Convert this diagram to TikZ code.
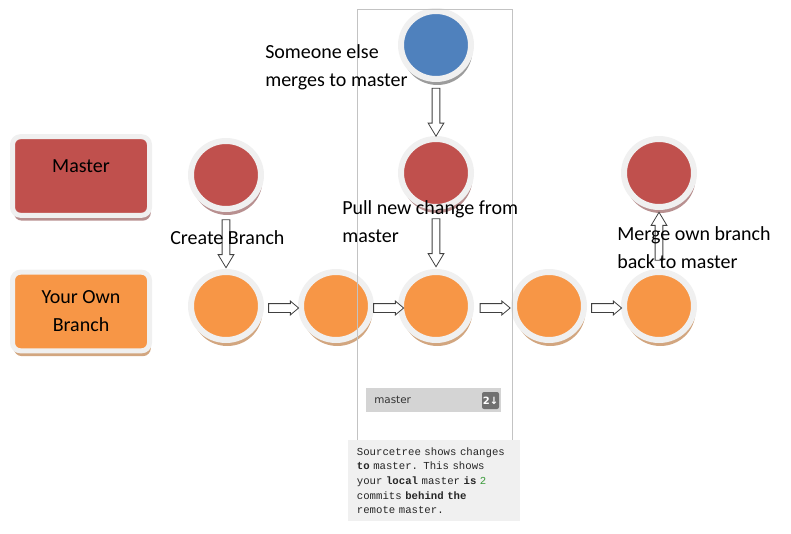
\documentclass[tikz,border=0pt]{standalone}
\usepackage{fontspec}
\setmainfont{Carlito}
\newfontfamily\notefont{Liberation Mono}[WordSpace={1,0,0}]
\newfontfamily\uifont{DejaVu Sans}
\usetikzlibrary{shapes.geometric,shapes.arrows,shadows}

\definecolor{masterred}{HTML}{C0504D}
\definecolor{branchorange}{HTML}{F79646}
\definecolor{otherblue}{HTML}{4F81BD}
\definecolor{ringgray}{HTML}{F0F0F0}
\definecolor{redshade}{HTML}{B89090}
\definecolor{orangeshade}{HTML}{D2A680}
\definecolor{blueshade}{HTML}{9C9C9C}
\definecolor{framegray}{HTML}{C3C3C3}
\definecolor{bargray}{HTML}{D4D4D4}
\definecolor{badgegray}{HTML}{707070}
\definecolor{notegray}{HTML}{F0F0F0}
\definecolor{commitgreen}{HTML}{3A9A3A}

\tikzset{
  commit/.style={ellipse, minimum width=52.5pt, minimum height=51pt,
    inner sep=0pt, draw=ringgray, line width=4.5pt},
  legendbox/.style={rectangle, rounded corners=6pt, draw=ringgray,
    line width=3.75pt, minimum width=102.75pt, minimum height=59pt,
    align=center, font=\fontsize{15}{21}\selectfont},
  blockarrow/.style={single arrow, draw=black!75, fill=white,
    line width=0.6pt, single arrow head indent=0pt},
  arrowdown/.style={blockarrow, shape border rotate=270, minimum height=36pt,
    inner sep=2.6pt, minimum width=11.25pt, single arrow head extend=3pt,
    single arrow tip angle=62},
  arrowup/.style={arrowdown, shape border rotate=90},
  arrowright/.style={blockarrow, minimum height=22.5pt, inner sep=3pt,
    minimum width=9.75pt, single arrow head extend=1.9pt,
    single arrow tip angle=80, yshift=-1.5pt},
  lbl/.style={font=\fontsize{15}{21}\selectfont, align=left, inner sep=0pt,
    anchor=west}
}

\begin{document}
\begin{tikzpicture}[x=0.75pt,y=-0.75pt]
\useasboundingbox (0,0) rectangle (791,534);

% Legend
\node[legendbox, fill=masterred, text height=9.5pt, text depth=14.5pt,
  drop shadow={shadow xshift=1pt, shadow yshift=-4pt, fill=redshade, opacity=1}]
  (lmaster) at (81,176) {Master};
\node[legendbox, fill=branchorange,
  drop shadow={shadow xshift=1pt, shadow yshift=-4pt, fill=orangeshade, opacity=1}]
  (lbranch) at (81,311.5) {Your Own\\Branch};

% Commits on master
\node[commit, fill=masterred,
  drop shadow={shadow xshift=1pt, shadow yshift=-4.5pt, fill=redshade, opacity=1}]
  (m1) at (226,175) {};
\node[commit, fill=masterred,
  drop shadow={shadow xshift=1pt, shadow yshift=-4.5pt, fill=redshade, opacity=1}]
  (m2) at (436,173) {};
\node[commit, fill=masterred,
  drop shadow={shadow xshift=1pt, shadow yshift=-4.5pt, fill=redshade, opacity=1}]
  (m3) at (659,173) {};
\node[commit, fill=otherblue,
  drop shadow={shadow xshift=1pt, shadow yshift=-4.5pt, fill=blueshade, opacity=1}]
  (o1) at (436,45) {};

% Commits on own branch
\foreach \name/\xpos in {b1/226, b2/336, b3/436, b4/549, b5/659}
  \node[commit, fill=branchorange,
    drop shadow={shadow xshift=1pt, shadow yshift=-4.5pt, fill=orangeshade, opacity=1}]
    (\name) at (\xpos,306) {};

% Sourcetree frame
\draw[framegray, line width=0.75pt] (357,10) rectangle (512,440);

% Arrows
\path (m1) -- (b1) node[midway, arrowdown] {};
\path (o1) -- (m2) node[midway, arrowdown] {};
\path (m2) -- (b3) node[midway, arrowdown] {};
\path (b5) -- (m3) node[midway, arrowup] {};
\foreach \from/\to in {b1/b2, b2/b3, b3/b4, b4/b5}
  \path (\from) -- (\to) node[midway, arrowright] {};

% Sourcetree branch bar
\node[fill=bargray, anchor=north west, minimum width=101.25pt, minimum height=18pt,
  inner xsep=6pt, text width=89.25pt, align=left, text=black!80,
  font=\uifont\fontsize{7.8}{9}\selectfont] (bar) at (366,388) {master};
\node[fill=badgegray, rounded corners=1.5pt, minimum width=12.75pt,
  minimum height=12.75pt, inner sep=0pt, text=white,
  font=\uifont\bfseries\fontsize{7.5}{9}\selectfont] (behind) at (490.5,400.5) {2↓};

% Note
\node[fill=notegray, anchor=north west, minimum width=129pt, minimum height=60.75pt,
  inner xsep=6.5pt, inner ysep=4.5pt, text width=116pt, align=left, text=black!85,
  font=\notefont\fontsize{8}{11}\selectfont] (note) at (348,440)
  {Sourcetree shows changes\\
   \textbf{to} master. This shows\\
   your \textbf{local} master \textbf{is} \textcolor{commitgreen}{2}\\
   commits \textbf{behind the}\\
   remote master.};

% Labels
\node[lbl] (t1) at (265,67) {Someone else\\merges to master};
\node[lbl] (t2) at (170,238) {Create Branch};
\node[lbl] (t3) at (342,222) {Pull new change from\\master};
\node[lbl] (t4) at (617,248) {Merge own branch\\back to master};
\end{tikzpicture}
\end{document}
